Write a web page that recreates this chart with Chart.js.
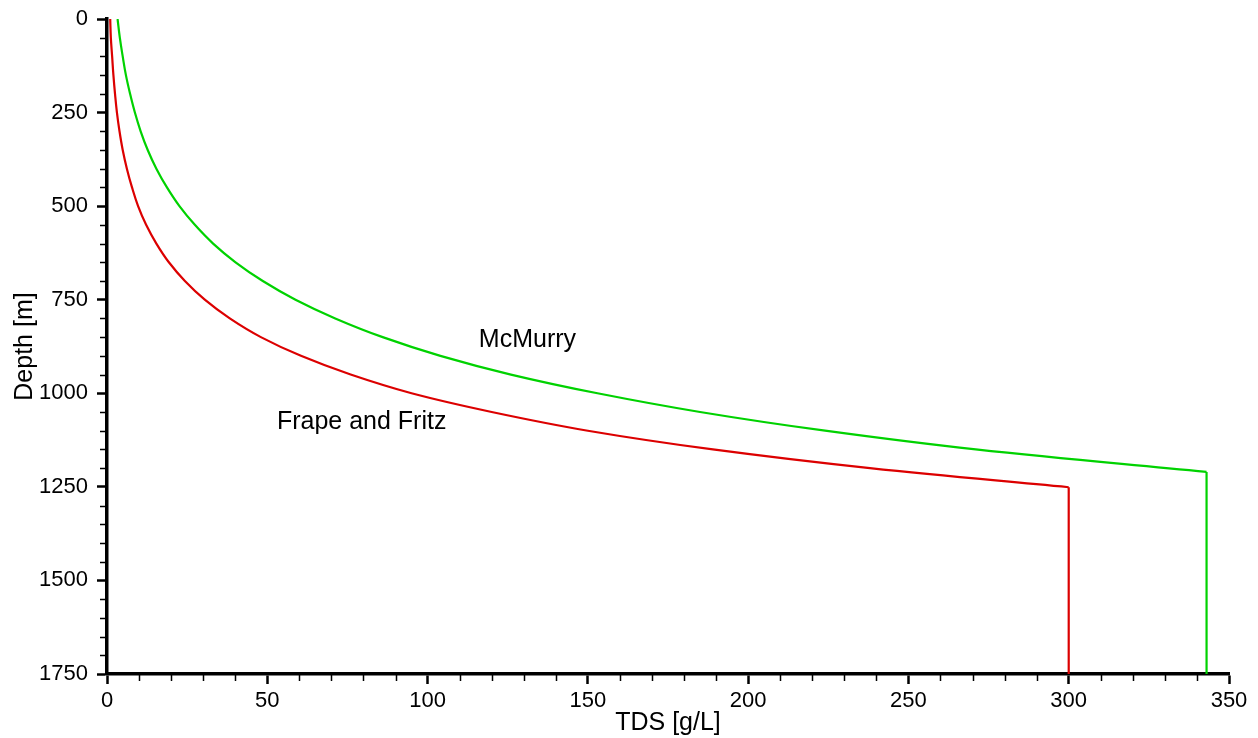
<!DOCTYPE html>
<html>
<head>
<meta charset="utf-8">
<title>TDS vs Depth</title>
<script src="https://cdn.jsdelivr.net/npm/chart.js@4/dist/chart.umd.min.js"></script>
<style>
  html, body { margin: 0; padding: 0; background: #fff; }
  #wrap { width: 1258px; height: 738px; }
</style>
</head>
<body>
<div id="wrap"><canvas id="tdsChart" width="1258" height="738"></canvas></div>
<script>
/* ── Data: TDS [g/L] against depth [m] ───────────────────────── */
const frapeDepth = [0, 50, 100, 150, 200, 250, 300, 350, 400, 450, 500, 550, 600, 650, 700, 750, 800, 850, 900, 950, 1000, 1050, 1100, 1150, 1200, 1251, 1750];
const frapeTds   = [1.0, 1.2, 1.6, 2.0, 2.5, 3.1, 3.9, 4.9, 6.2, 7.8, 9.7, 12.2, 15.4, 19.3, 24.3, 30.5, 38.3, 48, 60.5, 76, 95, 120, 150, 189, 238, 300, 300];

const mcmurryDepth = [0, 50, 100, 150, 200, 250, 300, 350, 400, 450, 500, 550, 600, 650, 700, 750, 800, 850, 900, 950, 1000, 1050, 1100, 1150, 1210, 1750];
const mcmurryTds   = [3.3, 4.0, 4.9, 5.9, 7.2, 8.7, 10.5, 12.7, 15.4, 18.7, 22.6, 27.4, 33.1, 40.1, 48.6, 58.8, 71.2, 86, 104, 126, 153, 185, 224, 271, 343, 343];

const curveNames  = ['Frape and Fritz', 'McMurry'];
const curveColors = ['#dc0000', '#00d200'];

// label anchors in data units (TDS, depth)
const labelTds   = [53, 116];
const labelDepth = [1077, 858];

const xMax = 350, xStep = 10, xMajor = 50;
const yMax = 1750, yStep = 50, yMajor = 250;

const FONT = "'Liberation Sans', Arial, Helvetica, sans-serif";

/* ── Helpers ─────────────────────────────────────────────────── */
function toPoints(tds, depth) {
  return tds.map((v, i) => ({ x: v, y: depth[i] }));
}

// curve part gets smoothed, the flat bottom part stays a straight drop
function buildDatasets(name, color, tds, depth) {
  const pts = toPoints(tds, depth);
  const last = pts.length - 1;
  const base = {
    borderColor: color,
    backgroundColor: color,
    borderWidth: 2.2,
    pointRadius: 0,
    showLine: true,
    fill: false,
  };
  return [
    { ...base, label: name, data: pts.slice(0, last), tension: 0.4 },
    { ...base, label: name + ' (base)', data: pts.slice(last - 1), tension: 0 },
  ];
}

/* ── Plugins ─────────────────────────────────────────────────── */
const minorTicks = {
  id: 'minorTicks',
  afterDraw(chart) {
    const { ctx, chartArea, scales: { x, y } } = chart;
    ctx.save();
    ctx.strokeStyle = '#000';
    ctx.lineWidth = 1.5;
    ctx.beginPath();
    x.ticks.forEach(t => {
      if (t.value % xMajor === 0) return;
      const px = Math.round(x.getPixelForValue(t.value)) + 0.5;
      ctx.moveTo(px, chartArea.bottom);
      ctx.lineTo(px, chartArea.bottom + 7);
    });
    y.ticks.forEach(t => {
      if (t.value % yMajor === 0) return;
      const py = Math.round(y.getPixelForValue(t.value)) + 0.5;
      ctx.moveTo(chartArea.left, py);
      ctx.lineTo(chartArea.left - 7, py);
    });
    ctx.stroke();
    ctx.restore();
  },
};

const curveLabels = {
  id: 'curveLabels',
  afterDatasetsDraw(chart) {
    const { ctx, scales: { x, y } } = chart;
    ctx.save();
    ctx.fillStyle = '#000';
    ctx.font = `25px ${FONT}`;
    ctx.textAlign = 'left';
    ctx.textBaseline = 'middle';
    curveNames.forEach((name, i) => {
      ctx.fillText(name, x.getPixelForValue(labelTds[i]), y.getPixelForValue(labelDepth[i]));
    });
    ctx.restore();
  },
};

/* ── Chart ───────────────────────────────────────────────────── */
const majorTickColor = (major) => (c) =>
  c.tick && c.tick.value % major === 0 ? '#000' : 'rgba(0,0,0,0)';

new Chart(document.getElementById('tdsChart').getContext('2d'), {
  type: 'scatter',
  data: {
    datasets: [
      ...buildDatasets(curveNames[0], curveColors[0], frapeTds, frapeDepth),
      ...buildDatasets(curveNames[1], curveColors[1], mcmurryTds, mcmurryDepth),
    ],
  },
  options: {
    responsive: false,
    animation: false,
    layout: { padding: { top: 19, right: 29, bottom: 0, left: 0 } },
    plugins: {
      legend: { display: false },
      tooltip: { enabled: false },
    },
    scales: {
      x: {
        type: 'linear',
        min: 0,
        max: xMax,
        afterFit: s => { s.height = 64; },
        border: { display: true, color: '#000', width: 3.5 },
        grid: {
          display: true,
          drawOnChartArea: false,
          drawTicks: true,
          tickLength: 10,
          tickWidth: 2.5,
          tickColor: majorTickColor(xMajor),
        },
        ticks: {
          stepSize: xStep,
          autoSkip: false,
          maxRotation: 0,
          padding: 4,
          color: '#000',
          font: { family: FONT, size: 22 },
          callback: v => (v % xMajor === 0 ? String(v) : ''),
        },
        title: {
          display: true,
          text: 'TDS [g/L]',
          color: '#000',
          font: { family: FONT, size: 25 },
          padding: { top: 0, bottom: 0 },
        },
      },
      y: {
        type: 'linear',
        reverse: true,
        min: 0,
        max: yMax,
        afterFit: s => { s.width = 107; },
        border: { display: true, color: '#000', width: 3.5 },
        grid: {
          display: true,
          drawOnChartArea: false,
          drawTicks: true,
          tickLength: 10,
          tickWidth: 2.5,
          tickColor: majorTickColor(yMajor),
        },
        ticks: {
          stepSize: yStep,
          autoSkip: false,
          padding: 9,
          color: '#000',
          font: { family: FONT, size: 22, lineHeight: 0.9 },
          callback: v => (v % yMajor === 0 ? String(v) : ''),
        },
        title: {
          display: true,
          text: 'Depth [m]',
          color: '#000',
          font: { family: FONT, size: 25 },
          padding: { top: 10, bottom: 0 },
        },
      },
    },
  },
  plugins: [minorTicks, curveLabels],
});
</script>
</body>
</html>
